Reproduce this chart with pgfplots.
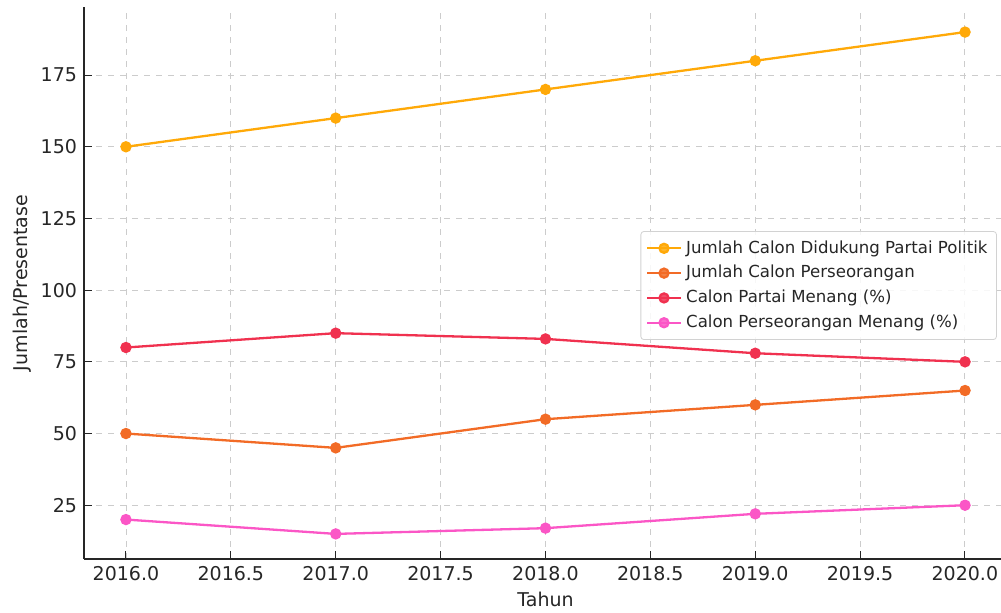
\documentclass[border=0pt]{standalone}
\usepackage{fontspec}
\setmainfont{DejaVu Sans}
\usepackage{pgfplots}
\pgfplotsset{compat=1.18}
\definecolor{c1}{HTML}{FFA908}
\definecolor{c2}{HTML}{F26B26}
\definecolor{c3}{HTML}{F0314F}
\definecolor{c4}{HTML}{FB56C6}
\begin{document}
\begin{tikzpicture}
\useasboundingbox (-42pt,-27pt) rectangle (458.5pt,279.5pt);
\clip (-42pt,-27pt) rectangle (458.5pt,279.5pt);
\begin{axis}[
  at={(0,0)}, anchor=south west,
  scale only axis, width=461.5pt, height=276pt,
  xmin=2015.8, xmax=2020.2, ymin=6.25, ymax=198.75,
  axis x line*=bottom, axis y line*=left,
  axis line style={black!85, line width=0.6pt},
  xtick={2016,2016.5,...,2020},
  ytick={25,50,...,175},
  xticklabel={\pgfmathprintnumber[fixed,fixed zerofill,precision=1,use period,1000 sep={}]{\tick}},
  yticklabel style={/pgf/number format/fixed},
  /pgf/number format/assume math mode=true,
  tick style={black!85, line width=0.5pt},
  major tick length=4pt,
  tick align=inside,
  grid=major,
  grid style={dashed, gray!40, line width=0.45pt},
  ticklabel style={font=\fontsize{9.5pt}{11pt}\selectfont, text=black!85},
  xlabel={Tahun}, ylabel={Jumlah/Presentase},
  label style={font=\fontsize{9.5pt}{11pt}\selectfont, text=black!85},
  xlabel style={yshift=1pt},
  ylabel style={yshift=-2pt},
  legend style={at={(0.989,0.594)}, anchor=north east,
    font=\fontsize{8.3pt}{9.6pt}\selectfont, text=black!85,
    draw=gray!35, rounded corners=1.5pt, fill=white, fill opacity=0.85, text opacity=1,
    row sep=0.6pt, inner sep=2.5pt},
  legend cell align=left,
  legend image code/.code={
    \draw[mark repeat=2,mark phase=2,#1] plot coordinates {(0pt,0pt) (8.5pt,0pt) (17pt,0pt)};
  },
  every axis plot/.append style={line width=1.15pt, mark=*, mark size=2.25pt},
]
\addplot[color=c1, mark options={fill=c1, draw=c1}] coordinates {(2016,150) (2017,160) (2018,170) (2019,180) (2020,190)};
\addlegendentry{Jumlah Calon Didukung Partai Politik}
\addplot[color=c2, mark options={fill=c2, draw=c2}] coordinates {(2016,50) (2017,45) (2018,55) (2019,60) (2020,65)};
\addlegendentry{Jumlah Calon Perseorangan}
\addplot[color=c3, mark options={fill=c3, draw=c3}] coordinates {(2016,80) (2017,85) (2018,83) (2019,78) (2020,75)};
\addlegendentry{Calon Partai Menang (\%)}
\addplot[color=c4, mark options={fill=c4, draw=c4}] coordinates {(2016,20) (2017,15) (2018,17) (2019,22) (2020,25)};
\addlegendentry{Calon Perseorangan Menang (\%)}
\end{axis}
\end{tikzpicture}
\end{document}
